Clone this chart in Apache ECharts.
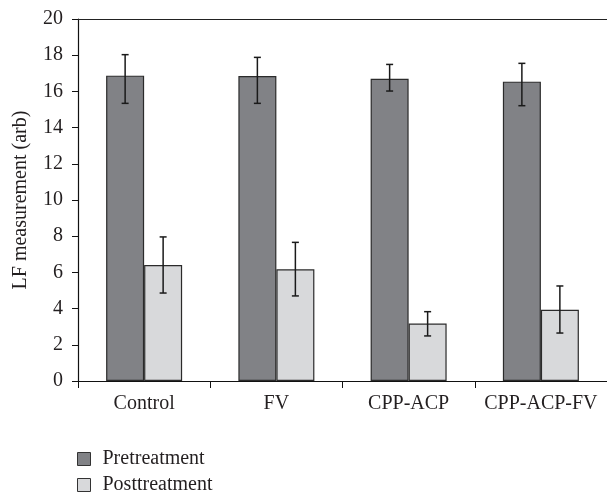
<!DOCTYPE html>
<html>
<head>
    <meta charset="utf-8">
    <title>LF measurement</title>
    <script src="https://cdn.jsdelivr.net/npm/echarts@6/dist/echarts.min.js"></script>
    <style>
        html, body { margin: 0; padding: 0; background: #fff; }
        #main { width: 607px; height: 493px; }
    </style>
</head>
<body>
<div id="main"></div>
<script>
    // data
    var categories = ['Control', 'FV', 'CPP-ACP', 'CPP-ACP-FV'];
    var seriesNames = ['Pretreatment', 'Posttreatment'];
    var preValues = [16.87, 16.85, 16.70, 16.54];
    var preLow = [15.34, 15.34, 16.02, 15.21];
    var preHigh = [18.03, 17.88, 17.49, 17.55];
    var postValues = [6.41, 6.17, 3.17, 3.94];
    var postLow = [4.86, 4.70, 2.49, 2.65];
    var postHigh = [7.96, 7.66, 3.83, 5.25];
    var yTicks = [0, 2, 4, 6, 8, 10, 12, 14, 16, 18, 20];

    var fontName = '"Liberation Serif", "DejaVu Serif", serif';
    var textColor = '#231f20';
    var barW = 38;

    function errData(lows, highs) {
        var out = [];
        for (var i = 0; i < lows.length; i++) {
            out.push([i, lows[i], highs[i]]);
        }
        return out;
    }

    // draws one error bar, shifted onto the bar it belongs to
    function errRender(offset) {
        return function (params, api) {
            var lo = api.coord([api.value(0), api.value(1)]);
            var hi = api.coord([api.value(0), api.value(2)]);
            var x = lo[0] + offset;
            var cap = 3.5;
            var st = { stroke: '#1a1a1a', lineWidth: 1.5 };
            return {
                type: 'group',
                children: [
                    { type: 'line', shape: { x1: x, y1: hi[1], x2: x, y2: lo[1] }, style: st },
                    { type: 'line', shape: { x1: x - cap, y1: hi[1], x2: x + cap, y2: hi[1] }, style: st },
                    { type: 'line', shape: { x1: x - cap, y1: lo[1], x2: x + cap, y2: lo[1] }, style: st }
                ]
            };
        };
    }

    // one legend per entry so they stack without wrapping
    function legendItem(name, top) {
        return {
            left: 77,
            top: top,
            padding: 0,
            itemWidth: 13,
            itemHeight: 13,
            icon: 'rect',
            data: [name],
            textStyle: { fontFamily: fontName, fontSize: 20, color: textColor, padding: [0, 0, 0, 7] },
            itemStyle: { borderColor: '#333', borderWidth: 1 }
        };
    }

    var myChart = echarts.init(document.getElementById('main'));
    var option = {
        animation: false,
        textStyle: { fontFamily: fontName, color: textColor },
        grid: { left: 78, right: -4, top: 19, bottom: 112 },
        legend: [legendItem(seriesNames[0], 449), legendItem(seriesNames[1], 475)],
        xAxis: [{
            type: 'category',
            data: categories,
            axisLine: { lineStyle: { color: '#111', width: 1.2 } },
            axisTick: { show: true, interval: 0, length: 7, lineStyle: { color: '#111' } },
            axisLabel: { interval: 0, fontFamily: fontName, fontSize: 20, color: textColor, margin: 13 }
        }, {
            type: 'category',
            position: 'top',
            data: categories,
            axisLine: { show: true, lineStyle: { color: '#222', width: 1.2 } },
            axisTick: { show: false },
            axisLabel: { show: false }
        }],
        yAxis: {
            type: 'value',
            min: yTicks[0],
            max: yTicks[yTicks.length - 1],
            interval: yTicks[1] - yTicks[0],
            name: 'LF measurement (arb)',
            nameLocation: 'middle',
            nameGap: 47,
            nameTextStyle: { fontFamily: fontName, fontSize: 20, color: textColor },
            axisLine: { show: true, lineStyle: { color: '#111', width: 1.2 } },
            axisTick: { show: true, length: 6, lineStyle: { color: '#111' } },
            axisLabel: { fontFamily: fontName, fontSize: 20, color: textColor, margin: 15 },
            splitLine: { show: false }
        },
        series: [
            {
                name: seriesNames[0],
                type: 'bar',
                barWidth: barW,
                barGap: '0%',
                data: preValues,
                itemStyle: { color: '#818286', borderColor: '#2b2b2b', borderWidth: 1.2 }
            },
            {
                name: seriesNames[1],
                type: 'bar',
                barWidth: barW,
                barGap: '0%',
                data: postValues,
                itemStyle: { color: '#d8d9db', borderColor: '#2b2b2b', borderWidth: 1.2 }
            },
            {
                type: 'custom',
                renderItem: errRender(-barW / 2),
                data: errData(preLow, preHigh),
                encode: { x: 0, y: [1, 2] },
                z: 10
            },
            {
                type: 'custom',
                renderItem: errRender(barW / 2),
                data: errData(postLow, postHigh),
                encode: { x: 0, y: [1, 2] },
                z: 10
            }
        ]
    };
    myChart.setOption(option);
</script>
</body>
</html>
